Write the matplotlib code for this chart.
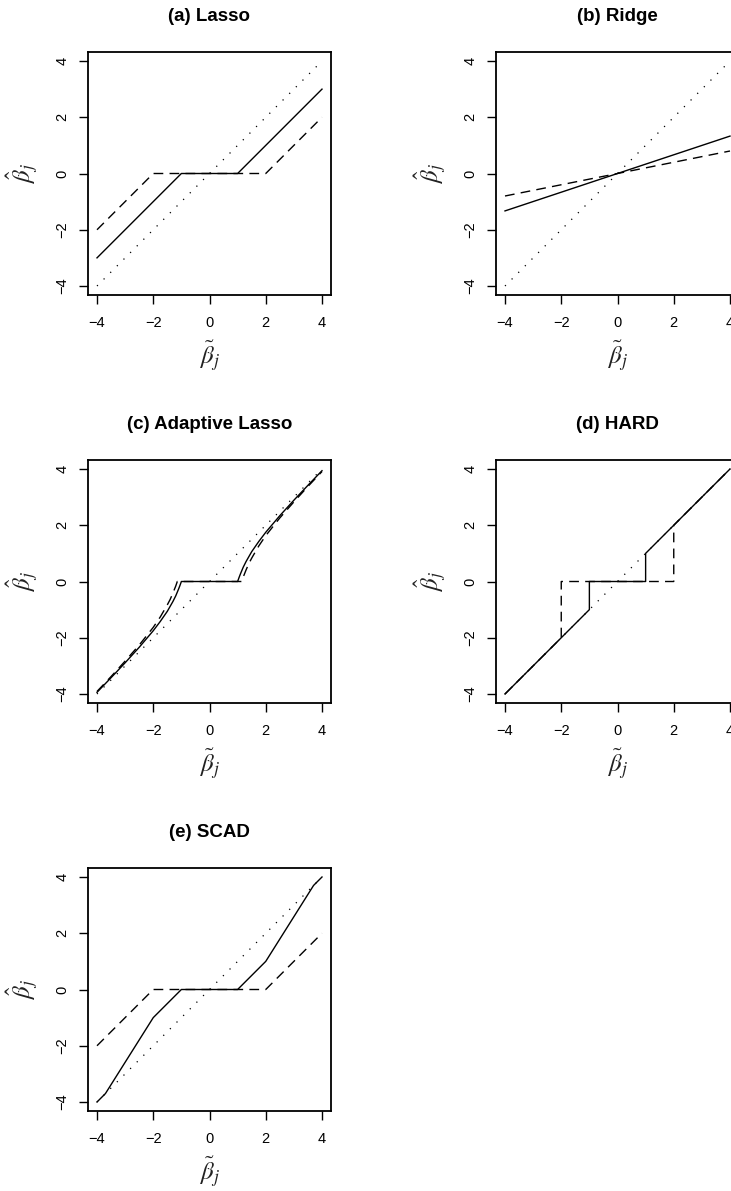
import numpy as np
import matplotlib
matplotlib.use('Agg')
import matplotlib.pyplot as plt

plt.rcParams['font.family'] = ['Liberation Sans', 'DejaVu Sans']
plt.rcParams['mathtext.fontset'] = 'stix'

# identity (dotted reference line)
id_x = [-4, 4]
id_y = [-4, 4]

# (a) lasso, lambda = 1 (solid) and lambda = 2 (dashed)
lasso_x1 = [-4, -1, 1, 4]
lasso_y1 = [-3, 0, 0, 3]
lasso_x2 = [-4, -2, 2, 4]
lasso_y2 = [-2, 0, 0, 2]

# (b) ridge
ridge_x = [-4, 4]
ridge_y1 = [-1.33, 1.33]
ridge_y2 = [-0.8, 0.8]

# (c) adaptive lasso
alasso_x1 = [-4, -3.5, -3, -2.5, -2, -1.75, -1.5, -1.3, -1.2, -1.1, -1.05, -1,
             1, 1.05, 1.1, 1.2, 1.3, 1.5, 1.75, 2, 2.5, 3, 3.5, 4]
alasso_y1 = [-3.94, -3.42, -2.89, -2.34, -1.75, -1.42, -1.06, -0.71, -0.51, -0.27, -0.14, 0,
             0, 0.14, 0.27, 0.51, 0.71, 1.06, 1.42, 1.75, 2.34, 2.89, 3.42, 3.94]
alasso_x2 = [-4, -3.5, -3, -2.5, -2, -1.75, -1.5, -1.4, -1.3, -1.2, -1.145,
             1.145, 1.2, 1.3, 1.4, 1.5, 1.75, 2, 2.5, 3, 3.5, 4]
alasso_y2 = [-3.91, -3.38, -2.83, -2.26, -1.63, -1.26, -0.83, -0.64, -0.41, -0.16, 0,
             0, 0.16, 0.41, 0.64, 0.83, 1.26, 1.63, 2.26, 2.83, 3.38, 3.91]

# (d) hard thresholding
hard_x1 = [-4, -1, -1, 1, 1, 4]
hard_y1 = [-4, -1, 0, 0, 1, 4]
hard_x2 = [-4, -2, -2, 2, 2, 4]
hard_y2 = [-4, -2, 0, 0, 2, 4]

# (e) SCAD
scad_x1 = [-4, -3.7, -2, -1, 1, 2, 3.7, 4]
scad_y1 = [-4, -3.7, -1, 0, 0, 1, 3.7, 4]
scad_x2 = [-4, -2, 2, 4]
scad_y2 = [-2, 0, 0, 2]

titles = ['(a) Lasso', '(b) Ridge', '(c) Adaptive Lasso', '(d) HARD', '(e) SCAD']
panels = [
    ((lasso_x1, lasso_y1), (lasso_x2, lasso_y2)),
    ((ridge_x, ridge_y1), (ridge_x, ridge_y2)),
    ((alasso_x1, alasso_y1), (alasso_x2, alasso_y2)),
    ((hard_x1, hard_y1), (hard_x2, hard_y2)),
    ((scad_x1, scad_y1), (scad_x2, scad_y2)),
]

W, H = 731, 1191
fig = plt.figure(figsize=(W / 100, H / 100), dpi=100)

# box positions in pixels (left, top)
col_left = [88, 496]
row_top = [52, 460, 868]
box = 243

for k, (title, (solid, dashed)) in enumerate(zip(titles, panels)):
    r, c = divmod(k, 2)
    ax = fig.add_axes([col_left[c] / W, 1 - (row_top[r] + box) / H, box / W, box / H])
    ax.plot(id_x, id_y, color='black', lw=0.9, dashes=(1, 6.5))
    ax.plot(dashed[0], dashed[1], color='black', lw=1.0, dashes=(7, 4.5))
    ax.plot(solid[0], solid[1], color='black', lw=1.0)
    ax.set_xlim(-4.32, 4.32)
    ax.set_ylim(-4.32, 4.32)
    ax.set_xticks([-4, -2, 0, 2, 4])
    ax.set_yticks([-4, -2, 0, 2, 4])
    ax.set_xticklabels(['\u22124', '\u22122', '0', '2', '4'])
    ax.set_yticklabels(['\u22124', '\u22122', '0', '2', '4'], rotation=90, va='center')
    ax.tick_params(direction='out', length=6.5, width=1.0, labelsize=10.5)
    ax.tick_params(axis='x', pad=8.5)
    ax.tick_params(axis='y', pad=7)
    for s in ax.spines.values():
        s.set_linewidth(1.3)
    ax.set_title(title, fontsize=13.5, fontweight='bold', pad=22)
    ax.set_xlabel(r'$\tilde{\beta}_j$', fontsize=18, va='center', color='#222222')
    ax.set_ylabel(r'$\hat{\beta}_j$', fontsize=18, va='center', color='#222222')
    ax.xaxis.set_label_coords(0.5, -0.25)
    ax.yaxis.set_label_coords(-0.27, 0.5)

fig.savefig('out.png', dpi=100)
